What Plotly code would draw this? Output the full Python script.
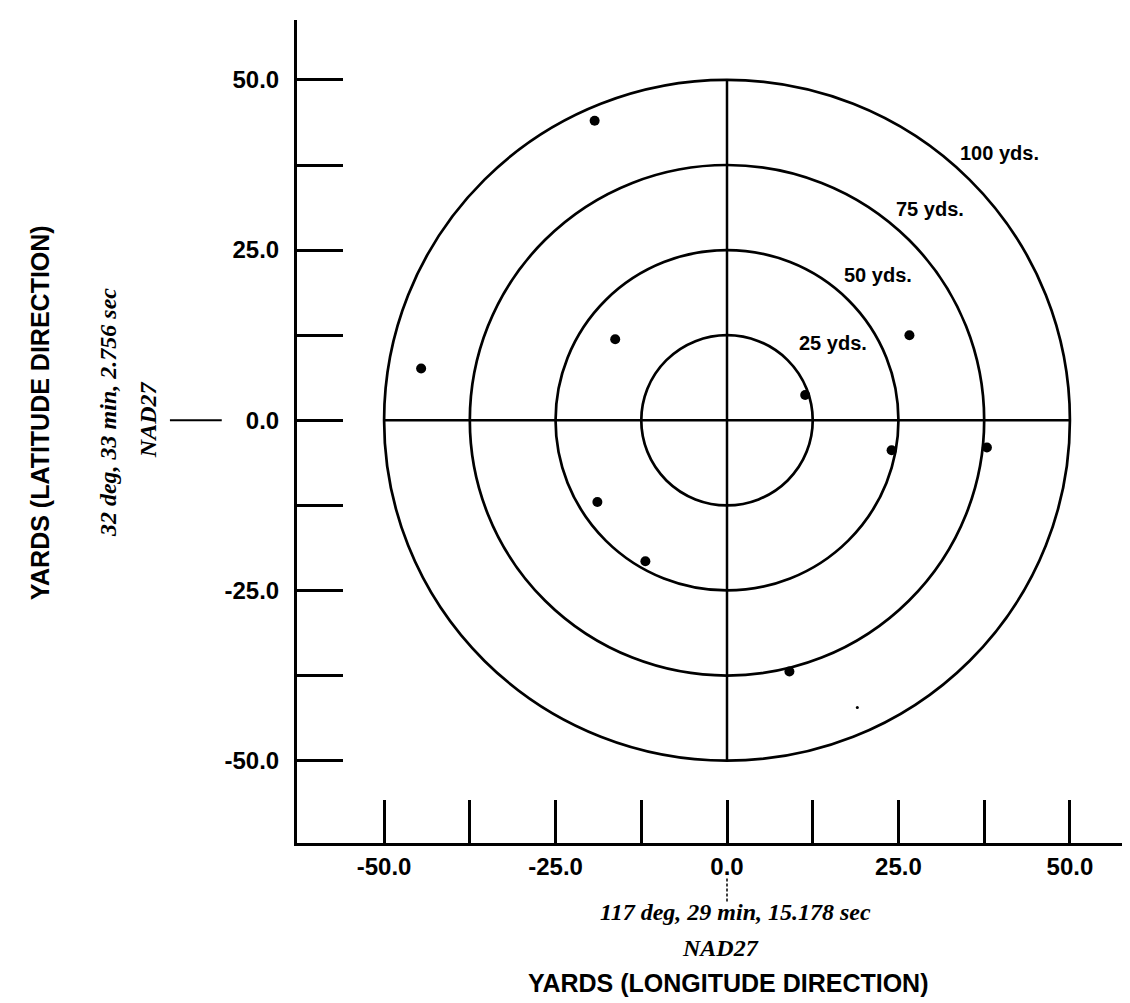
import plotly.graph_objects as go

# ---- data ----
pt_x = [-19.3, -44.6, -16.3, 26.6, 11.4, 24.0, 37.9, -18.9, -11.9, 9.1]
pt_y = [44.0, 7.6, 11.9, 12.5, 3.7, -4.4, -4.0, -12.0, -20.7, -36.9]
speck_x = [19.0]
speck_y = [-42.2]

ring_radius = [12.5, 25.0, 37.5, 50.0]
ring_label = ["25 yds.", "50 yds.", "75 yds.", "100 yds."]
ring_label_x = [15.5, 22.0, 29.6, 39.8]
ring_label_y = [11.3, 21.3, 31.1, 39.2]

tick_vals = [-50.0, -37.5, -25.0, -12.5, 0.0, 12.5, 25.0, 37.5, 50.0]
tick_text = ["-50.0", "", "-25.0", "", "0.0", "", "25.0", "", "50.0"]

x_title = "YARDS (LONGITUDE DIRECTION)"
y_title = "YARDS (LATITUDE DIRECTION)"
x_ref_text = ["117 deg, 29 min, 15.178 sec", "NAD27"]
y_ref_text = ["32 deg, 33 min, 2.756 sec", "NAD27"]

x_range = [-62.7, 59.2]
y_range = [-62.1, 58.8]

SANS = "Arial, Liberation Sans, Helvetica, sans-serif"
SERIF = "Times New Roman, Liberation Serif, serif"

fig = go.Figure()

R = max(ring_radius)
# cross hairs
fig.add_trace(go.Scatter(x=[-R, R], y=[0, 0], mode="lines",
                         line=dict(color="black", width=2.5), hoverinfo="skip"))
fig.add_trace(go.Scatter(x=[0, 0], y=[R, -R], mode="lines",
                         line=dict(color="black", width=2.5), hoverinfo="skip"))

# rings
for r in ring_radius:
    fig.add_shape(type="circle", xref="x", yref="y", x0=-r, x1=r, y0=-r, y1=r,
                  line=dict(color="black", width=2.7), layer="above")

# points
fig.add_trace(go.Scatter(x=pt_x, y=pt_y, mode="markers",
                         marker=dict(color="black", size=10)))
fig.add_trace(go.Scatter(x=speck_x, y=speck_y, mode="markers",
                         marker=dict(color="black", size=3)))

# ring labels
for t, lx, ly in zip(ring_label, ring_label_x, ring_label_y):
    fig.add_annotation(x=lx, y=ly, xref="x", yref="y", text=t, showarrow=False,
                       xanchor="center", yanchor="middle",
                       font=dict(family=SANS, size=20, color="black", weight="bold"))

serif_font = dict(family=SERIF, size=24, color="black", weight="bold")
sans_title = dict(family=SANS, size=25, color="black", weight="bold")

# reference texts (bottom)
fig.add_annotation(x=0.525, y=-0.0838, xref="paper", yref="paper", text="<i>" + x_ref_text[0] + "</i>",
                   showarrow=False, xanchor="center", yanchor="middle", font=serif_font)
fig.add_annotation(x=0.506, y=-0.1276, xref="paper", yref="paper", text="<i>" + x_ref_text[1] + "</i>",
                   showarrow=False, xanchor="center", yanchor="middle", font=serif_font)
# reference texts (left)
fig.add_annotation(x=-0.226, y=0.5225, xref="paper", yref="paper", text="<i>" + y_ref_text[0] + "</i>",
                   showarrow=False, textangle=-90, xanchor="center", yanchor="middle", font=serif_font)
fig.add_annotation(x=-0.178, y=0.514, xref="paper", yref="paper", text="<i>" + y_ref_text[1] + "</i>",
                   showarrow=False, textangle=-90, xanchor="center", yanchor="middle", font=serif_font)

# axis titles
fig.add_annotation(x=0.515, y=-0.170, xref="paper", yref="paper", text=x_title, showarrow=False,
                   xanchor="center", yanchor="middle", font=sans_title)
fig.add_annotation(x=-0.307, y=0.5225, xref="paper", yref="paper", text=y_title, showarrow=False,
                   textangle=-90, xanchor="center", yanchor="middle", font=sans_title)

# pointer lines
fig.add_shape(type="line", xref="paper", yref="y", x0=-0.152, x1=-0.09, y0=0, y1=0,
              line=dict(color="black", width=2))
fig.add_shape(type="line", xref="x", yref="paper", x0=0, x1=0, y0=-0.043, y1=-0.072,
              line=dict(color="black", width=1.5, dash="3px,2px"))

axis_common = dict(
    tickmode="array", tickvals=tick_vals, ticktext=tick_text,
    ticks="inside", tickwidth=2.7, tickcolor="black",
    showline=True, linecolor="black", linewidth=3,
    showgrid=False, zeroline=False,
    tickfont=dict(family=SANS, size=24, color="black", weight="bold"),
)

fig.update_xaxes(range=x_range, ticklen=43, ticklabelstandoff=0, **axis_common)
fig.update_yaxes(range=y_range, ticklen=46, ticklabelstandoff=10, **axis_common)

fig.update_layout(
    width=1130, height=1003,
    margin=dict(l=289, r=5, t=12, b=168),
    paper_bgcolor="white", plot_bgcolor="white",
    showlegend=False,
)

fig.write_html("out.html")
